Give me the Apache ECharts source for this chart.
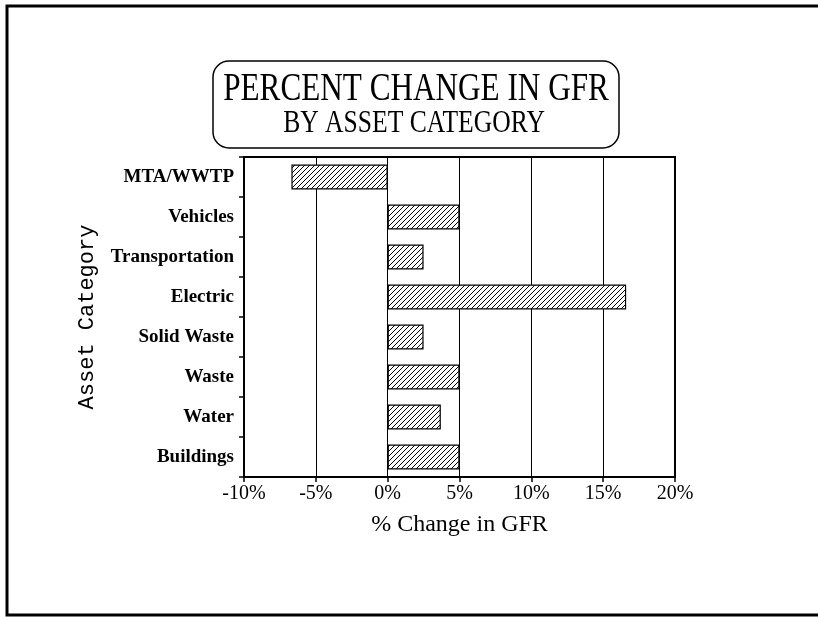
<!DOCTYPE html>
<html>
<head>
<meta charset="utf-8">
<script src="https://cdn.jsdelivr.net/npm/echarts@6/dist/echarts.min.js"></script>
<style>
  html, body { margin: 0; padding: 0; background: #fff; }
  #container { width: 818px; height: 617px; }
</style>
</head>
<body>
<div id="container"></div>
<script>
var categories = ['MTA/WWTP', 'Vehicles', 'Transportation', 'Electric',
                  'Solid Waste', 'Waste', 'Water', 'Buildings'];
var pctChange = [-6.7, 5, 2.5, 16.6, 2.5, 5, 3.7, 5];
var xTicks = [-10, -5, 0, 5, 10, 15, 20];

// diagonal hatch for the bars
function hatch() {
    var c = document.createElement('canvas');
    c.width = 5; c.height = 5;
    var g = c.getContext('2d');
    g.fillStyle = '#fff';
    g.fillRect(0, 0, 5, 5);
    g.strokeStyle = '#000';
    g.lineWidth = 1;
    g.beginPath();
    g.moveTo(-1, 6); g.lineTo(6, -1);
    g.moveTo(-3, 3); g.lineTo(3, -3);
    g.moveTo(2, 8); g.lineTo(8, 2);
    g.stroke();
    return c;
}

var dom = document.getElementById('container');
var myChart = echarts.init(dom);

var option = {
    backgroundColor: '#fff',
    animation: false,
    grid: {
        left: 244, right: 143, top: 157, bottom: 140,
        show: true, borderColor: '#000', borderWidth: 2,
        containLabel: false
    },
    xAxis: {
        type: 'value',
        min: xTicks[0],
        max: xTicks[xTicks.length - 1],
        interval: 5,
        name: '% Change in GFR',
        nameLocation: 'middle',
        nameGap: 36,
        nameTextStyle: { fontFamily: 'Liberation Serif', fontSize: 24, color: '#000' },
        axisLine: { show: true, lineStyle: { color: '#000', width: 2 } },
        axisTick: { show: true, length: 5, lineStyle: { color: '#000', width: 1.5 } },
        axisLabel: {
            formatter: function (v) { return v + '%'; },
            fontFamily: 'Liberation Serif', fontSize: 20, color: '#000', margin: 7
        },
        splitLine: { show: true, lineStyle: { color: '#000', width: 1 } }
    },
    yAxis: {
        type: 'category',
        data: categories,
        inverse: true,
        name: 'Asset Category',
        nameLocation: 'middle',
        nameGap: 146,
        nameRotate: 90,
        nameTextStyle: { fontFamily: 'Liberation Mono', fontSize: 22, color: '#000' },
        axisLine: { show: true, onZero: false, lineStyle: { color: '#000', width: 2 } },
        axisTick: { show: true, length: 5, lineStyle: { color: '#000', width: 1.5 } },
        axisLabel: {
            fontFamily: 'Liberation Serif', fontWeight: 'bold', fontSize: 19,
            color: '#000', margin: 10
        },
        splitLine: { show: false }
    },
    graphic: [
        // page frame (left, top, bottom)
        { type: 'polyline', silent: true,
          shape: { points: [[818, 6], [7, 6], [7, 615], [818, 615]] },
          style: { stroke: '#000', lineWidth: 3, fill: null } },
        // rounded title box
        { type: 'rect', silent: true,
          shape: { x: 213, y: 61, width: 406, height: 87, r: 16 },
          style: { stroke: '#000', lineWidth: 1.5, fill: '#fff' } },
        { type: 'text', silent: true, x: 416, y: 89, scaleX: 0.78,
          style: { text: 'PERCENT CHANGE IN GFR', font: '40px "Liberation Serif"',
                   fill: '#000', textAlign: 'center', textVerticalAlign: 'middle' } },
        { type: 'text', silent: true, x: 414, y: 124, scaleX: 0.8,
          style: { text: 'BY ASSET CATEGORY', font: '32px "Liberation Serif"',
                   fill: '#000', textAlign: 'center', textVerticalAlign: 'middle' } }
    ],
    series: [{
        type: 'bar',
        data: pctChange,
        barWidth: 25,
        itemStyle: {
            color: { image: hatch(), repeat: 'repeat' },
            borderColor: '#000',
            borderWidth: 1.2
        }
    }]
};

myChart.setOption(option);
</script>
</body>
</html>
